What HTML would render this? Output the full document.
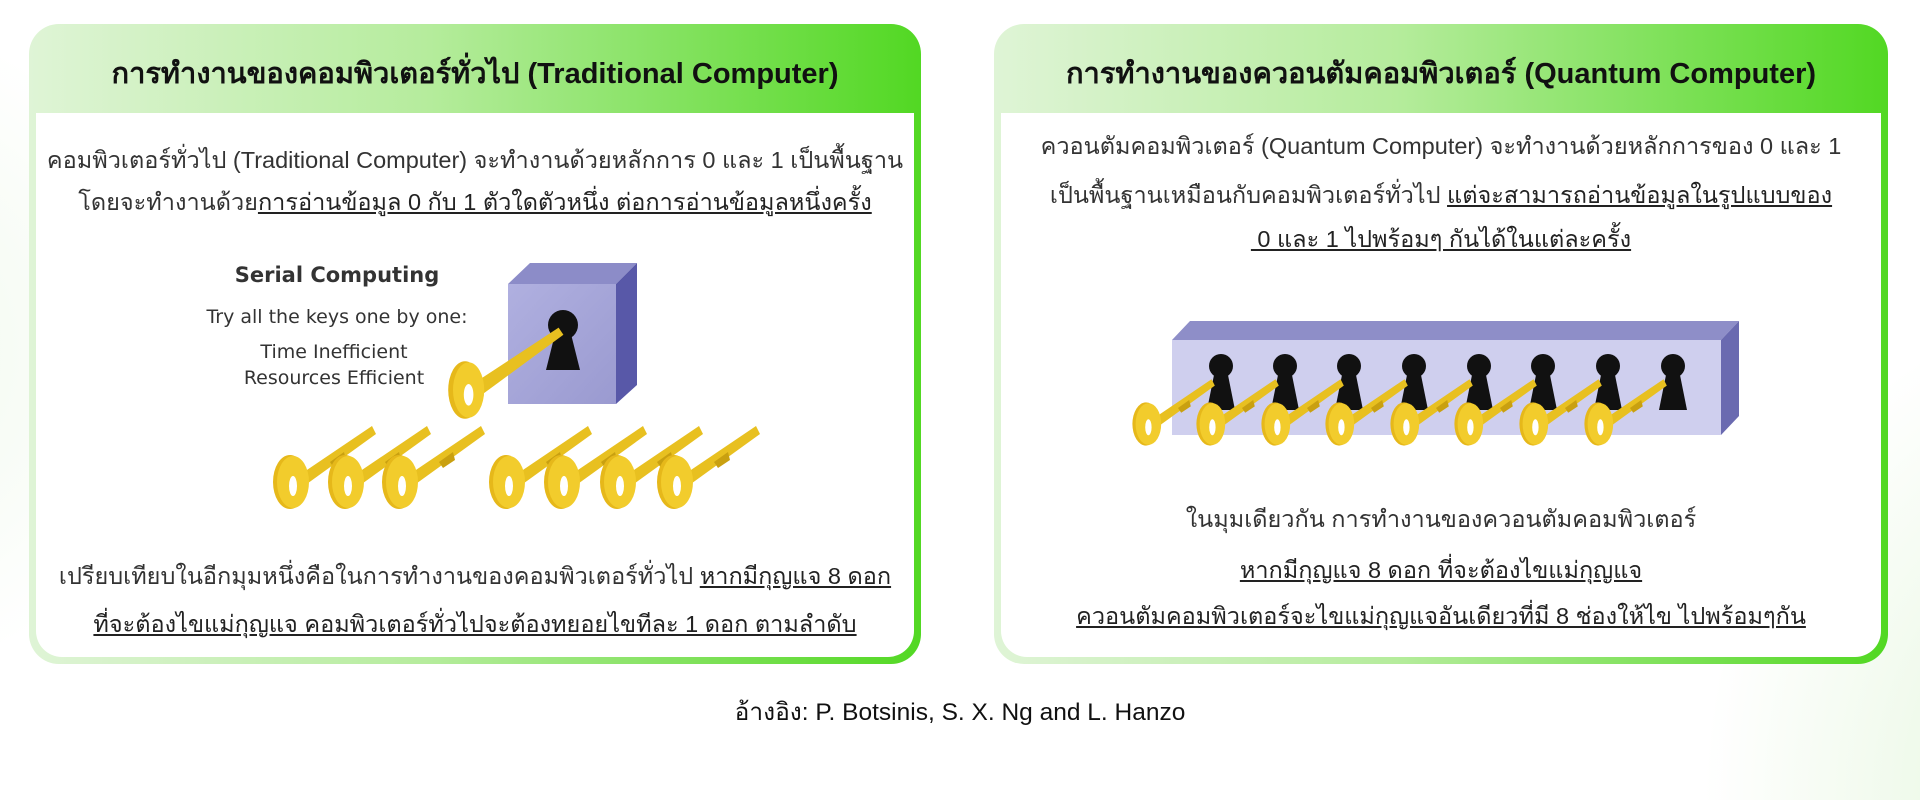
<!DOCTYPE html>
<html><head><meta charset="utf-8"><style>
body{margin:0;width:1920px;height:762px;background:#fff;position:relative;overflow:hidden;font-family:"Liberation Sans","DejaVu Sans",sans-serif;color:#222}
.bgl{position:absolute;left:-200px;top:0;width:400px;height:700px;background:radial-gradient(ellipse at left center,#eef8ea 0%,rgba(255,255,255,0) 70%)}
.bgr{position:absolute;left:1700px;top:300px;width:400px;height:500px;background:radial-gradient(ellipse at right bottom,#e2f5da 0%,rgba(255,255,255,0) 70%)}
.panel{position:absolute;top:24px;height:640px;border-radius:30px;background:linear-gradient(90deg,#dff4d6 0%,#b5ec9c 45%,#52d823 100%)}
.inner{position:absolute;left:7px;right:7px;top:89px;bottom:7px;background:#fff;border-radius:0 0 26px 26px}
.title{position:absolute;left:0;right:0;top:26px;text-align:center;font-weight:bold;font-size:29px;color:#111}
.t{position:absolute;left:0;right:0;text-align:center;font-size:23.5px;color:#333;white-space:nowrap}
u{color:#222}
.ref{position:absolute;left:0;width:1920px;top:692px;text-align:center;font-size:24.5px;color:#111}
svg{position:absolute;left:0;top:0}
</style></head><body>
<div class="bgl"></div><div class="bgr"></div>
<div class="panel" style="left:29px;width:892px">
 <div class="inner"></div>
 <div class="title">การทำงานของคอมพิวเตอร์ทั่วไป (Traditional Computer)</div>
 <div class="t" style="top:118px">คอมพิวเตอร์ทั่วไป (Traditional Computer) จะทำงานด้วยหลักการ 0 และ 1 เป็นพื้นฐาน</div>
 <div class="t" style="top:160px">โดยจะทำงานด้วย<u>การอ่านข้อมูล 0 กับ 1 ตัวใดตัวหนึ่ง ต่อการอ่านข้อมูลหนึ่งครั้ง</u></div>
 <div class="t" style="top:534px">เปรียบเทียบในอีกมุมหนึ่งคือในการทำงานของคอมพิวเตอร์ทั่วไป <u>หากมีกุญแจ 8 ดอก </u></div>
 <div class="t" style="top:582px"><u>ที่จะต้องไขแม่กุญแจ คอมพิวเตอร์ทั่วไปจะต้องทยอยไขทีละ 1 ดอก ตามลำดับ</u></div>
</div>
<div class="panel" style="left:994px;width:894px">
 <div class="inner"></div>
 <div class="title">การทำงานของควอนตัมคอมพิวเตอร์ (Quantum Computer)</div>
 <div class="t" style="top:104px">ควอนตัมคอมพิวเตอร์ (Quantum Computer) จะทำงานด้วยหลักการของ 0 และ 1</div>
 <div class="t" style="top:153px">เป็นพื้นฐานเหมือนกับคอมพิวเตอร์ทั่วไป <u>แต่จะสามารถอ่านข้อมูลในรูปแบบของ</u></div>
 <div class="t" style="top:197px"><u>&nbsp;0 และ 1 ไปพร้อมๆ กันได้ในแต่ละครั้ง</u></div>
 <div class="t" style="top:477px">ในมุมเดียวกัน การทำงานของควอนตัมคอมพิวเตอร์</div>
 <div class="t" style="top:528px"><u>หากมีกุญแจ 8 ดอก ที่จะต้องไขแม่กุญแจ </u></div>
 <div class="t" style="top:574px"><u>ควอนตัมคอมพิวเตอร์จะไขแม่กุญแจอันเดียวที่มี 8 ช่องให้ไข ไปพร้อมๆกัน</u></div>
</div>
<div class="ref">อ้างอิง: P. Botsinis, S. X. Ng and L. Hanzo</div>
<svg width="1920" height="762" font-family="DejaVu Sans, sans-serif">
<defs>
<linearGradient id="cf" x1="0" y1="0" x2="1" y2="1"><stop offset="0" stop-color="#b0b0e0"/><stop offset="1" stop-color="#9a9ad0"/></linearGradient>
<g id="key">
 <polygon points="8,-6 82,-56 86,-48 14,4" fill="#e8c020"/>
 <polygon points="40,-20 54,-30 56,-22 44,-14" fill="#c9a010"/>
 <ellipse cx="0" cy="0" rx="17" ry="27" fill="#e6b81a"/>
 <ellipse cx="3" cy="0" rx="16" ry="26" fill="#f2cc2c"/>
 <ellipse cx="3" cy="4" rx="4" ry="10" fill="#fff"/>
</g>
</defs>
<g font-size="21" text-anchor="middle" fill="#333">
 <text x="337" y="282" font-weight="bold" font-size="21">Serial Computing</text>
 <text x="337" y="323" font-size="19">Try all the keys one by one:</text>
 <text x="334" y="358" font-size="19">Time Inefficient</text>
 <text x="334" y="384" font-size="19">Resources Efficient</text>
</g>
<polygon points="508,284 530,263 637,263 616,284" fill="#8c8cc8"/>
<polygon points="616,284 637,263 637,385 616,404" fill="#5858a8"/>
<rect x="508" y="284" width="108" height="120" fill="url(#cf)"/>
<circle cx="563" cy="325" r="15" fill="#111"/>
<polygon points="556,330 570,330 580,370 546,370" fill="#111"/>
<g transform="translate(465,390) scale(1.2)"><polygon points="8,-6 78,-52 82,-46 14,4" fill="#e8c020"/><ellipse cx="0" cy="0" rx="14" ry="24" fill="#e6b81a"/><ellipse cx="3" cy="0" rx="13" ry="23" fill="#f2cc2c"/><ellipse cx="3" cy="4" rx="4" ry="9" fill="#fff"/></g>
<use href="#key" transform="translate(290,482)"/>
<use href="#key" transform="translate(345,482)"/>
<use href="#key" transform="translate(399,482)"/>
<use href="#key" transform="translate(506,482)"/>
<use href="#key" transform="translate(561,482)"/>
<use href="#key" transform="translate(617,482)"/>
<use href="#key" transform="translate(674,482)"/>
<polygon points="1172,340 1190,321 1739,321 1721,340" fill="#8e8ec8"/>
<polygon points="1721,340 1739,321 1739,416 1721,435" fill="#6a6ab0"/>
<rect x="1172" y="340" width="549" height="95" fill="#cfcfee"/>
<g fill="#111">
 <circle cx="1221" cy="366" r="12"/><polygon points="1215,370 1227,370 1235,410 1207,410"/>
 <circle cx="1285" cy="366" r="12"/><polygon points="1279,370 1291,370 1299,410 1271,410"/>
 <circle cx="1349" cy="366" r="12"/><polygon points="1343,370 1355,370 1363,410 1335,410"/>
 <circle cx="1414" cy="366" r="12"/><polygon points="1408,370 1420,370 1428,410 1400,410"/>
 <circle cx="1479" cy="366" r="12"/><polygon points="1473,370 1485,370 1493,410 1465,410"/>
 <circle cx="1543" cy="366" r="12"/><polygon points="1537,370 1549,370 1557,410 1529,410"/>
 <circle cx="1608" cy="366" r="12"/><polygon points="1602,370 1614,370 1622,410 1594,410"/>
 <circle cx="1673" cy="366" r="12"/><polygon points="1667,370 1679,370 1687,410 1659,410"/>
</g>
<use href="#key" transform="translate(1146,424) scale(0.8)"/>
<use href="#key" transform="translate(1210,424) scale(0.8)"/>
<use href="#key" transform="translate(1275,424) scale(0.8)"/>
<use href="#key" transform="translate(1339,424) scale(0.8)"/>
<use href="#key" transform="translate(1404,424) scale(0.8)"/>
<use href="#key" transform="translate(1468,424) scale(0.8)"/>
<use href="#key" transform="translate(1533,424) scale(0.8)"/>
<use href="#key" transform="translate(1598,424) scale(0.8)"/>
</svg>
</body></html>
